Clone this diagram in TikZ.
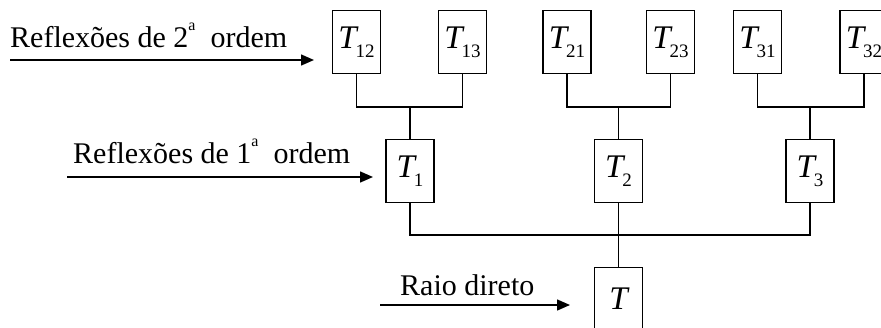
\documentclass[tikz,border=0pt]{standalone}
\usepackage{fontspec}
\setmainfont{Liberation Serif}
\usetikzlibrary{arrows.meta}
% italic T with an upright numeric index, set a little left of the box centre
\newcommand{\Tsub}[1]{{\itshape T}\kern-0.04em\raisebox{-0.27em}{\fontsize{19}{19}\selectfont #1}\hspace{5pt}}
\newcommand{\ordsup}[1]{#1\raisebox{0.55em}{\fontsize{16}{16}\selectfont a}}
\begin{document}
\begin{tikzpicture}[x=1pt,y=-1pt,
  tbox/.style={draw,line width=1.3pt,minimum width=48pt,minimum height=63pt,inner sep=0pt,font=\fontsize{33}{33}\selectfont},
  wire/.style={line width=1.3pt},
  ray/.style={line width=1.5pt,-{Triangle[length=13pt,width=11pt]}},
  lbl/.style={anchor=base west,inner sep=0pt,font=\fontsize{30}{30}\selectfont}]
\useasboundingbox (0,0) rectangle (881,327);
% second-order reflections
\node[tbox] (T12) at (356.5,42) {\Tsub{12}};
\node[tbox] (T13) at (462.5,42) {\Tsub{13}};
\node[tbox] (T21) at (567,42) {\Tsub{21}};
\node[tbox] (T23) at (670.5,42) {\Tsub{23}};
\node[tbox] (T31) at (757.5,42) {\Tsub{31}};
\node[tbox] (T32) at (864,42) {\Tsub{32}};
% first-order reflections
\node[tbox] (T1) at (410,171) {\Tsub{1}};
\node[tbox] (T2) at (618.5,171) {\Tsub{2}};
\node[tbox] (T3) at (810,171) {\Tsub{3}};
% direct ray
\node[tbox] (T) at (618.5,299) {{\itshape T}};
% junctions
\coordinate (J1) at (410,107);
\coordinate (J2) at (618.5,107);
\coordinate (J3) at (810,107);
\coordinate (J4) at (618.5,235);
\draw[wire] (T12.south) |- (J1) -| (T13.south);
\draw[wire] (J1) -- (T1.north);
\draw[wire] (T21.south) |- (J2) -| (T23.south);
\draw[wire] (J2) -- (T2.north);
\draw[wire] (T31.south) |- (J3) -| (T32.south);
\draw[wire] (J3) -- (T3.north);
\draw[wire] (T1.south) |- (J4) -| (T3.south);
\draw[wire] (T2.south) -- (T.north);
% incoming rays and their labels
\node[lbl] (L2) at (10,47) {Reflexões de \ordsup{2}\ \ ordem};
\node[lbl] (L1) at (73,163) {Reflexões de \ordsup{1}\ \ ordem};
\node[lbl] (L0) at (400,295) {Raio direto};
\coordinate (A2s) at (10,60);
\coordinate (A2e) at (314,60);
\coordinate (A1s) at (67,177);
\coordinate (A1e) at (373,177);
\coordinate (A0s) at (380,305);
\coordinate (A0e) at (570,305);
\draw[ray] (A2s) -- (A2e);
\draw[ray] (A1s) -- (A1e);
\draw[ray] (A0s) -- (A0e);
\end{tikzpicture}
\end{document}
